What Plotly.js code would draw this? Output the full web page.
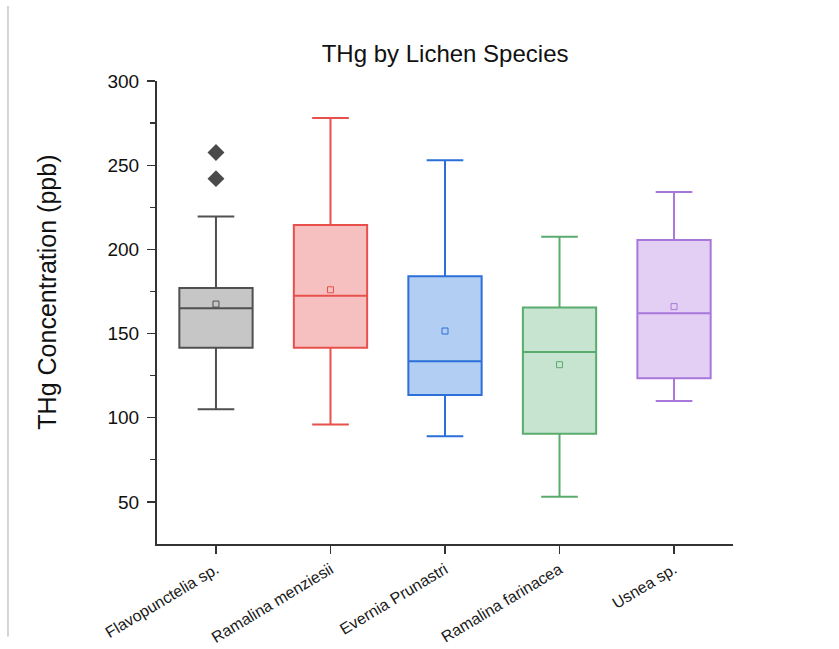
<!DOCTYPE html>
<html>
<head>
<meta charset="utf-8">
<script src="https://cdn.plot.ly/plotly-3.0.1.min.js"></script>
<style>html,body{margin:0;padding:0;background:#fff;}#chart{width:839px;height:649px;}</style>
</head>
<body>
<div id="chart"></div>
<script>
const species = ["Flavopunctelia sp.", "Ramalina menziesii", "Evernia Prunastri", "Ramalina farinacea", "Usnea sp."];
const lowerWhisker = [105, 96, 89, 53, 110];
const q1Values = [141.5, 141.5, 113.5, 90.5, 123.5];
const medianValues = [165, 172.5, 133.5, 139, 162];
const q3Values = [177, 214.5, 184, 165.5, 205.5];
const upperWhisker = [219.5, 278, 253, 207.5, 234];
const meanValues = [167.5, 176, 151.5, 131.5, 166];
const outlierSpecies = ["Flavopunctelia sp.", "Flavopunctelia sp."];
const outlierValues = [257.5, 242];
const lineColors = ["#505050", "#e8504c", "#2d6fd9", "#5aab6e", "#a877dc"];
const fillColors = ["#c6c6c6", "#f5c0bf", "#b3cef3", "#c7e4d0", "#e2cff3"];
const yTitle = 'THg Concentration (ppb)';

const traces = species.map((s, i) => ({
  type: 'box',
  name: s,
  x: [s],
  q1: [q1Values[i]],
  median: [medianValues[i]],
  q3: [q3Values[i]],
  lowerfence: [lowerWhisker[i]],
  upperfence: [upperWhisker[i]],
  width: 0.64,
  whiskerwidth: 0.5,
  line: {color: lineColors[i], width: 2},
  fillcolor: fillColors[i],
  boxpoints: false,
  hoverinfo: 'skip',
  showlegend: false
}));

traces.push({
  type: 'scatter', mode: 'markers',
  x: species, y: meanValues,
  marker: {symbol: 'square-open', size: 6, color: lineColors, line: {width: 1, color: lineColors}},
  showlegend: false, hoverinfo: 'skip'
});
traces.push({
  type: 'scatter', mode: 'markers',
  x: outlierSpecies, y: outlierValues,
  marker: {symbol: 'diamond', size: 13, color: '#4a4a4a'},
  showlegend: false, hoverinfo: 'skip'
});

const layout = {
  width: 839, height: 649,
  margin: {l: 157, r: 106, t: 81, b: 105},
  paper_bgcolor: '#fff', plot_bgcolor: '#fff',
  font: {family: 'Liberation Sans, Arial, sans-serif', color: '#111'},
  boxmode: 'overlay',
  title: {text: 'THg by Lichen Species', font: {size: 24, color: '#111'}, x: 0.5305, xanchor: 'center', y: 0.918, yanchor: 'middle'},
  xaxis: {
    type: 'category', categoryarray: species, categoryorder: 'array',
    range: [-0.515, 4.515],
    showline: true, linecolor: '#333', linewidth: 2,
    ticks: 'outside', ticklen: 8, tickwidth: 1.2, tickcolor: '#333',
    tickangle: -31, tickfont: {size: 16, color: '#1a1a1a'},
    showgrid: false, zeroline: false
  },
  yaxis: {
    range: [25, 300],
    tickvals: [50, 100, 150, 200, 250, 300],
    showline: true, linecolor: '#333', linewidth: 2,
    ticks: 'outside', ticklen: 8, tickwidth: 1.2, tickcolor: '#333',
    ticklabelstandoff: 4,
    minor: {tickvals: [75, 125, 175, 225, 275], ticks: 'outside', ticklen: 5, tickwidth: 1.2, tickcolor: '#333', showgrid: false},
    tickfont: {size: 19, color: '#111'},
    showgrid: false, zeroline: false
  },
  annotations: [{
    text: yTitle, xref: 'paper', yref: 'paper',
    x: -0.191, y: 0.545, xanchor: 'center', yanchor: 'middle',
    textangle: -90, showarrow: false,
    font: {size: 25, color: '#111'}
  }],
  shapes: [{
    type: 'line', xref: 'paper', yref: 'paper',
    x0: -0.2587, x1: -0.2587, y0: 1.162, y1: -0.2,
    line: {color: '#aaaaaa', width: 1}
  }]
};

Plotly.newPlot('chart', traces, layout, {displayModeBar: false, staticPlot: true});
</script>
</body>
</html>
